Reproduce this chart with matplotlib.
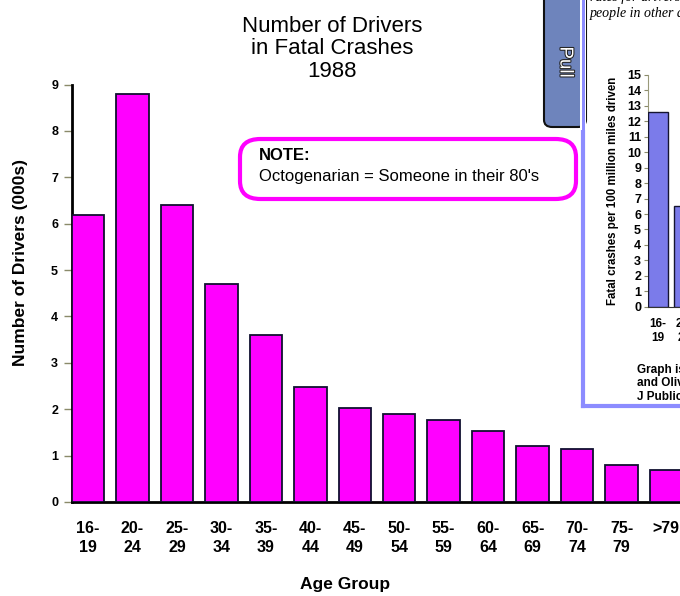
import matplotlib
matplotlib.use("Agg")
import matplotlib.pyplot as plt
from matplotlib.patches import FancyBboxPatch, Rectangle
import matplotlib.patheffects as pe
from matplotlib import font_manager

# Drivers in fatal crashes by age group, 1988 (thousands)
age_groups = ["16-\n19", "20-\n24", "25-\n29", "30-\n34", "35-\n39", "40-\n44", "45-\n49",
              "50-\n54", "55-\n59", "60-\n64", "65-\n69", "70-\n74", "75-\n79", ">79"]
drivers_000s = [6.19, 8.80, 6.40, 4.69, 3.60, 2.48, 2.02, 1.89, 1.77, 1.53, 1.21, 1.15, 0.80, 0.70]
y_ticks = list(range(0, 10))

# Side panel: fatal crashes per 100 million miles driven
side_groups = ["16-\n19", "20-\n24"]
side_rates = [12.6, 6.5]
side_ticks = list(range(0, 16))
side_footer = ["Graph is from", "and Oliver", "J Public Health"]

W, H = 680, 596
fig = plt.figure(figsize=(W / 100, H / 100), dpi=100)
fig.patch.set_facecolor("white")

names = {f.name for f in font_manager.fontManager.ttflist}
narrow = ["Liberation Sans Narrow", "Liberation Sans"] if "Liberation Sans Narrow" in names else ["Liberation Sans"]
arial = ["Liberation Sans", "DejaVu Sans"]


def fx(px):
    return px / W


def fy(py):
    return 1 - py / H


MAGENTA = "#ff00ff"
TICK_C = "#8a8a6a"
BORDER = "#8c8cff"

# ---- main chart ----
unit = 44.46
left_px, bottom_px, top_px = 72, 502, 84.5
x0 = -0.36
ax_w = 620
ax_h = bottom_px - top_px
ax = fig.add_axes([fx(left_px), fy(bottom_px), ax_w / W, ax_h / H])
x = list(range(len(drivers_000s)))
ax.bar(x, drivers_000s, width=0.73, color=MAGENTA, edgecolor="#101030", linewidth=1.3, zorder=3)
ax.set_xlim(x0, x0 + ax_w / unit)
ax.set_ylim(0, 9)
for s in ("top", "right"):
    ax.spines[s].set_visible(False)
for s in ("left", "bottom"):
    ax.spines[s].set_color("black")
    ax.spines[s].set_linewidth(2)
ax.set_yticks(y_ticks)
ax.set_yticklabels([str(t) for t in y_ticks], fontfamily=arial, fontweight="bold", fontsize=9)
ax.tick_params(axis="y", direction="out", length=6, width=1, color=TICK_C, pad=4)
ax.set_xticks(x)
ax.set_xticklabels(age_groups, fontfamily=narrow, fontweight="bold", fontsize=11.5, linespacing=1.3)
ax.tick_params(axis="x", length=0, pad=14)
ax.set_ylabel("Number of Drivers (000s)", fontfamily=narrow, fontweight="bold", fontsize=12.5)
ax.set_xlabel("Age Group", fontfamily=narrow, fontweight="bold", fontsize=12.5)
ax.xaxis.label.set_va("center")
ax.yaxis.label.set_va("center")
ax.xaxis.set_label_coords((345 - left_px) / ax_w, (bottom_px - 585) / ax_h)
ax.yaxis.set_label_coords(-(left_px - 21) / ax_w, (bottom_px - 262) / ax_h)

fig.text(fx(332), fy(49), "Number of Drivers\nin Fatal Crashes\n1988", ha="center", va="center",
         fontfamily=arial, fontsize=16, linespacing=1.1)

# note box
note = FancyBboxPatch((fx(240), fy(199)), fx(336), (199 - 139) / H,
                      boxstyle="round,pad=0,rounding_size=0.03",
                      transform=fig.transFigure, facecolor="white", edgecolor=MAGENTA,
                      linewidth=3, zorder=5)
fig.add_artist(note)
fig.text(fx(259), fy(156), "NOTE:", fontfamily=arial, fontweight="bold", fontsize=12, va="center", zorder=6)
fig.text(fx(259), fy(176), "Octogenarian = Someone in their 80's", fontfamily=arial, fontsize=12,
         va="center", zorder=6)

# ---- side panel ----
panel = fig.add_axes([fx(583), fy(406), fx(110), 420 / H], zorder=10)
panel.set_facecolor("white")
panel.set_xticks([])
panel.set_yticks([])
for s in ("top", "right"):
    panel.spines[s].set_visible(False)
for s in ("left", "bottom"):
    panel.spines[s].set_color(BORDER)
    panel.spines[s].set_linewidth(3)

fig.text(fx(590), fy(-3), "rates for drivers 16-19 compared to", fontfamily="Liberation Serif",
         style="italic", fontsize=10, va="center", zorder=12)
fig.text(fx(590), fy(13), "people in other age groups", fontfamily="Liberation Serif",
         style="italic", fontsize=10, va="center", zorder=12)

# pull tab
tab = FancyBboxPatch((fx(544), fy(127)), fx(42), 140 / H,
                     boxstyle="round,pad=0,rounding_size=0.012",
                     transform=fig.transFigure, facecolor="#6e84bc", edgecolor="#111111",
                     linewidth=1.5, zorder=11)
fig.add_artist(tab)
fig.add_artist(Rectangle((fx(580), fy(130)), fx(6), 140 / H, transform=fig.transFigure,
                         facecolor="white", edgecolor="none", zorder=11.4))
fig.add_artist(Rectangle((fx(581.5), fy(130)), fx(3), 140 / H, transform=fig.transFigure,
                         facecolor=BORDER, edgecolor="none", zorder=11.5))
fig.text(fx(565), fy(62), "Pull", rotation=270, ha="center", va="center", color="white",
         fontfamily=arial, fontsize=13.5, zorder=12,
         path_effects=[pe.withStroke(linewidth=1.5, foreground="#222222")])

# side bar chart
s_unit = 26.5
s_left, s_bottom, s_top = 648, 306.7, 75
s_w = 60
sax = fig.add_axes([fx(s_left), fy(s_bottom), s_w / W, (s_bottom - s_top) / H], zorder=13)
sx = list(range(len(side_rates)))
sax.bar(sx, side_rates, width=0.74, color="#7b7bea", edgecolor="#151530", linewidth=1, zorder=3)
sax.set_xlim(-0.37, -0.37 + s_w / s_unit)
sax.set_ylim(0, 15)
sax.set_facecolor("none")
for s in ("top", "right"):
    sax.spines[s].set_visible(False)
sax.spines["left"].set_color("#9a9a7a")
sax.spines["bottom"].set_color("#333333")
sax.set_yticks(side_ticks)
sax.set_yticklabels([str(t) for t in side_ticks], fontfamily=arial, fontweight="bold", fontsize=9)
sax.tick_params(axis="y", length=3, color=TICK_C, pad=2)
sax.set_xticks(sx)
sax.set_xticklabels(side_groups, fontfamily=arial, fontweight="bold", fontsize=8.5, linespacing=1.25)
sax.tick_params(axis="x", length=0, pad=8)
sax.set_ylabel("Fatal crashes per 100 million miles driven", fontfamily=arial, fontweight="bold",
               fontsize=8.3)
sax.yaxis.label.set_va("center")
sax.yaxis.set_label_coords(-(s_left - 613) / s_w, 0.5)

for i, line in enumerate(side_footer):
    fig.text(fx(637), fy(370 + 13.5 * i), line, fontfamily=arial, fontweight="bold", fontsize=8.5,
             va="center", zorder=14)

fig.savefig("out.png", dpi=100, facecolor="white")
